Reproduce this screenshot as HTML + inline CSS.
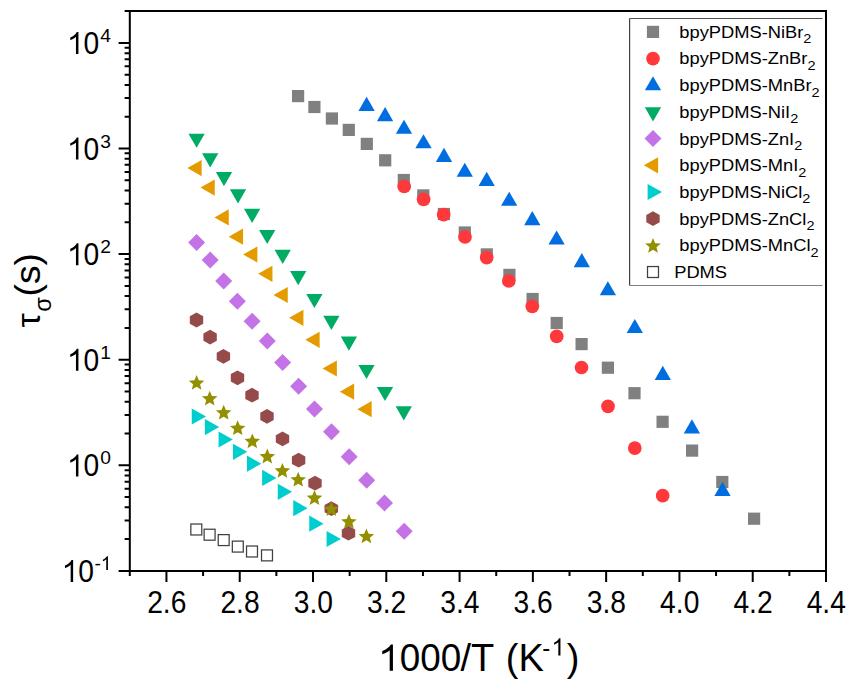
<!DOCTYPE html>
<html><head><meta charset="utf-8"><title>tau vs 1000/T</title>
<style>html,body{margin:0;padding:0;background:#fff;}body{width:856px;height:685px;overflow:hidden;}svg{display:block;font-family:"Liberation Sans",sans-serif;}</style>
</head><body>
<svg width="856" height="685" viewBox="0 0 856 685">
<rect width="856" height="685" fill="#fff"/>
<g>
<rect x="292" y="90" width="12.2" height="12.2" fill="#808080"/>
<rect x="308.3" y="100.9" width="12.2" height="12.2" fill="#808080"/>
<rect x="325.8" y="112.4" width="12.2" height="12.2" fill="#808080"/>
<rect x="342.7" y="123.8" width="12.2" height="12.2" fill="#808080"/>
<rect x="360.7" y="137.8" width="12.2" height="12.2" fill="#808080"/>
<rect x="379.1" y="154.2" width="12.2" height="12.2" fill="#808080"/>
<rect x="397.7" y="173.9" width="12.2" height="12.2" fill="#808080"/>
<rect x="417.2" y="189.3" width="12.2" height="12.2" fill="#808080"/>
<rect x="437.8" y="207.9" width="12.2" height="12.2" fill="#808080"/>
<rect x="458.7" y="226.4" width="12.2" height="12.2" fill="#808080"/>
<rect x="480.7" y="248.3" width="12.2" height="12.2" fill="#808080"/>
<rect x="503.3" y="268.8" width="12.2" height="12.2" fill="#808080"/>
<rect x="526.5" y="292.9" width="12.2" height="12.2" fill="#808080"/>
<rect x="550.6" y="316.9" width="12.2" height="12.2" fill="#808080"/>
<rect x="575.5" y="338" width="12.2" height="12.2" fill="#808080"/>
<rect x="601.8" y="361.6" width="12.2" height="12.2" fill="#808080"/>
<rect x="628.4" y="387.1" width="12.2" height="12.2" fill="#808080"/>
<rect x="656.5" y="415.7" width="12.2" height="12.2" fill="#808080"/>
<rect x="686" y="444.5" width="12.2" height="12.2" fill="#808080"/>
<rect x="716.2" y="475.9" width="12.2" height="12.2" fill="#808080"/>
<rect x="748" y="512.6" width="12.2" height="12.2" fill="#808080"/>
</g>
<g>
<circle cx="404.2" cy="186.5" r="6.85" fill="#FF383C"/>
<circle cx="423.6" cy="199.3" r="6.85" fill="#FF383C"/>
<circle cx="443.7" cy="214.7" r="6.85" fill="#FF383C"/>
<circle cx="465" cy="236.9" r="6.85" fill="#FF383C"/>
<circle cx="486.7" cy="257.6" r="6.85" fill="#FF383C"/>
<circle cx="508.8" cy="280.9" r="6.85" fill="#FF383C"/>
<circle cx="532.3" cy="306.3" r="6.85" fill="#FF383C"/>
<circle cx="556.7" cy="336.4" r="6.85" fill="#FF383C"/>
<circle cx="581.5" cy="367.5" r="6.85" fill="#FF383C"/>
<circle cx="608" cy="406.4" r="6.85" fill="#FF383C"/>
<circle cx="634.8" cy="448.1" r="6.85" fill="#FF383C"/>
<circle cx="662.7" cy="495.7" r="6.85" fill="#FF383C"/>
</g>
<g>
<polygon points="366.6,96.85 374.75,110.95 358.45,110.95" fill="#006EE0"/>
<polygon points="385.1,107.05 393.25,121.15 376.95,121.15" fill="#006EE0"/>
<polygon points="404,119.65 412.15,133.75 395.85,133.75" fill="#006EE0"/>
<polygon points="423.5,134.25 431.65,148.35 415.35,148.35" fill="#006EE0"/>
<polygon points="444,147.85 452.15,161.95 435.85,161.95" fill="#006EE0"/>
<polygon points="464.8,162.65 472.95,176.75 456.65,176.75" fill="#006EE0"/>
<polygon points="486.7,171.85 494.85,185.95 478.55,185.95" fill="#006EE0"/>
<polygon points="509.2,191.75 517.35,205.85 501.05,205.85" fill="#006EE0"/>
<polygon points="532.3,211.05 540.45,225.15 524.15,225.15" fill="#006EE0"/>
<polygon points="556.6,230.45 564.75,244.55 548.45,244.55" fill="#006EE0"/>
<polygon points="581.8,253.05 589.95,267.15 573.65,267.15" fill="#006EE0"/>
<polygon points="607.9,281.25 616.05,295.35 599.75,295.35" fill="#006EE0"/>
<polygon points="634.8,318.95 642.95,333.05 626.65,333.05" fill="#006EE0"/>
<polygon points="662.8,365.85 670.95,379.95 654.65,379.95" fill="#006EE0"/>
<polygon points="691.9,419.35 700.05,433.45 683.75,433.45" fill="#006EE0"/>
<polygon points="722.5,481.85 730.65,495.95 714.35,495.95" fill="#006EE0"/>
</g>
<g>
<polygon points="188.45,133.75 204.75,133.75 196.6,147.85" fill="#00AC64"/>
<polygon points="202.05,153.35 218.35,153.35 210.2,167.45" fill="#00AC64"/>
<polygon points="215.85,172.05 232.15,172.05 224,186.15" fill="#00AC64"/>
<polygon points="229.85,189.35 246.15,189.35 238,203.45" fill="#00AC64"/>
<polygon points="243.95,208.85 260.25,208.85 252.1,222.95" fill="#00AC64"/>
<polygon points="259.05,229.95 275.35,229.95 267.2,244.05" fill="#00AC64"/>
<polygon points="274.55,249.85 290.85,249.85 282.7,263.95" fill="#00AC64"/>
<polygon points="290.05,271.05 306.35,271.05 298.2,285.15" fill="#00AC64"/>
<polygon points="306.25,293.95 322.55,293.95 314.4,308.05" fill="#00AC64"/>
<polygon points="323.25,315.85 339.55,315.85 331.4,329.95" fill="#00AC64"/>
<polygon points="340.75,336.55 357.05,336.55 348.9,350.65" fill="#00AC64"/>
<polygon points="358.35,364.95 374.65,364.95 366.5,379.05" fill="#00AC64"/>
<polygon points="376.85,386.95 393.15,386.95 385,401.05" fill="#00AC64"/>
<polygon points="395.65,406.35 411.95,406.35 403.8,420.45" fill="#00AC64"/>
</g>
<g>
<polygon points="196.6,234.1 205.1,242.6 196.6,251.1 188.1,242.6" fill="#C373E6"/>
<polygon points="210.2,251.6 218.7,260.1 210.2,268.6 201.7,260.1" fill="#C373E6"/>
<polygon points="223.7,272.4 232.2,280.9 223.7,289.4 215.2,280.9" fill="#C373E6"/>
<polygon points="237.4,292.8 245.9,301.3 237.4,309.8 228.9,301.3" fill="#C373E6"/>
<polygon points="252.1,312.7 260.6,321.2 252.1,329.7 243.6,321.2" fill="#C373E6"/>
<polygon points="267.3,332.4 275.8,340.9 267.3,349.4 258.8,340.9" fill="#C373E6"/>
<polygon points="282.6,353.9 291.1,362.4 282.6,370.9 274.1,362.4" fill="#C373E6"/>
<polygon points="298.6,377.8 307.1,386.3 298.6,394.8 290.1,386.3" fill="#C373E6"/>
<polygon points="314.5,400.5 323,409 314.5,417.5 306,409" fill="#C373E6"/>
<polygon points="331.5,423.2 340,431.7 331.5,440.2 323,431.7" fill="#C373E6"/>
<polygon points="349.2,448.2 357.7,456.7 349.2,465.2 340.7,456.7" fill="#C373E6"/>
<polygon points="366.7,471.7 375.2,480.2 366.7,488.7 358.2,480.2" fill="#C373E6"/>
<polygon points="384.5,494.4 393,502.9 384.5,511.4 376,502.9" fill="#C373E6"/>
<polygon points="404.2,522.7 412.7,531.2 404.2,539.7 395.7,531.2" fill="#C373E6"/>
</g>
<g>
<polygon points="187.35,168.1 201.65,160 201.65,176.2" fill="#E39B00"/>
<polygon points="200.45,187.6 214.75,179.5 214.75,195.7" fill="#E39B00"/>
<polygon points="214.45,217.4 228.75,209.3 228.75,225.5" fill="#E39B00"/>
<polygon points="228.75,236.7 243.05,228.6 243.05,244.8" fill="#E39B00"/>
<polygon points="243.05,254.5 257.35,246.4 257.35,262.6" fill="#E39B00"/>
<polygon points="258.15,273.8 272.45,265.7 272.45,281.9" fill="#E39B00"/>
<polygon points="273.45,295 287.75,286.9 287.75,303.1" fill="#E39B00"/>
<polygon points="289.15,317.8 303.45,309.7 303.45,325.9" fill="#E39B00"/>
<polygon points="305.35,339.8 319.65,331.7 319.65,347.9" fill="#E39B00"/>
<polygon points="322.55,368.5 336.85,360.4 336.85,376.6" fill="#E39B00"/>
<polygon points="339.85,391.7 354.15,383.6 354.15,399.8" fill="#E39B00"/>
<polygon points="357.35,409.2 371.65,401.1 371.65,417.3" fill="#E39B00"/>
</g>
<g>
<polygon points="206.05,416.5 191.75,408.4 191.75,424.6" fill="#00CDCD"/>
<polygon points="219.15,427.1 204.85,419 204.85,435.2" fill="#00CDCD"/>
<polygon points="232.85,439.5 218.55,431.4 218.55,447.6" fill="#00CDCD"/>
<polygon points="247.25,451.8 232.95,443.7 232.95,459.9" fill="#00CDCD"/>
<polygon points="261.25,463.7 246.95,455.6 246.95,471.8" fill="#00CDCD"/>
<polygon points="276.45,477.9 262.15,469.8 262.15,486" fill="#00CDCD"/>
<polygon points="292.05,491.8 277.75,483.7 277.75,499.9" fill="#00CDCD"/>
<polygon points="307.55,508.2 293.25,500.1 293.25,516.3" fill="#00CDCD"/>
<polygon points="323.55,523.7 309.25,515.6 309.25,531.8" fill="#00CDCD"/>
<polygon points="340.85,539 326.55,530.9 326.55,547.1" fill="#00CDCD"/>
</g>
<g>
<polygon points="196.5,312.6 203.2,316.3 203.2,323.7 196.5,327.4 189.8,323.7 189.8,316.3" fill="#964B4B"/>
<polygon points="210.1,329.7 216.8,333.4 216.8,340.8 210.1,344.5 203.4,340.8 203.4,333.4" fill="#964B4B"/>
<polygon points="223.4,349 230.1,352.7 230.1,360.1 223.4,363.8 216.7,360.1 216.7,352.7" fill="#964B4B"/>
<polygon points="237.5,370.4 244.2,374.1 244.2,381.5 237.5,385.2 230.8,381.5 230.8,374.1" fill="#964B4B"/>
<polygon points="252,387.8 258.7,391.5 258.7,398.9 252,402.6 245.3,398.9 245.3,391.5" fill="#964B4B"/>
<polygon points="267,409 273.7,412.7 273.7,420.1 267,423.8 260.3,420.1 260.3,412.7" fill="#964B4B"/>
<polygon points="282.5,431.5 289.2,435.2 289.2,442.6 282.5,446.3 275.8,442.6 275.8,435.2" fill="#964B4B"/>
<polygon points="298.6,452.8 305.3,456.5 305.3,463.9 298.6,467.6 291.9,463.9 291.9,456.5" fill="#964B4B"/>
<polygon points="315,475.8 321.7,479.5 321.7,486.9 315,490.6 308.3,486.9 308.3,479.5" fill="#964B4B"/>
<polygon points="331.3,501.2 338,504.9 338,512.3 331.3,516 324.6,512.3 324.6,504.9" fill="#964B4B"/>
<polygon points="348.5,525.8 355.2,529.5 355.2,536.9 348.5,540.6 341.8,536.9 341.8,529.5" fill="#964B4B"/>
</g>
<g>
<polygon points="196.6,374.98 198.77,380.2 204.4,380.65 200.11,384.32 201.42,389.82 196.6,386.87 191.78,389.82 193.09,384.32 188.8,380.65 194.43,380.2" fill="#939000"/>
<polygon points="209.7,390.68 211.87,395.9 217.5,396.35 213.21,400.02 214.52,405.52 209.7,402.57 204.88,405.52 206.19,400.02 201.9,396.35 207.53,395.9" fill="#939000"/>
<polygon points="223.7,404.78 225.87,410 231.5,410.45 227.21,414.12 228.52,419.62 223.7,416.67 218.88,419.62 220.19,414.12 215.9,410.45 221.53,410" fill="#939000"/>
<polygon points="237.7,420.28 239.87,425.5 245.5,425.95 241.21,429.62 242.52,435.12 237.7,432.17 232.88,435.12 234.19,429.62 229.9,425.95 235.53,425.5" fill="#939000"/>
<polygon points="252.3,433.38 254.47,438.6 260.1,439.05 255.81,442.72 257.12,448.22 252.3,445.27 247.48,448.22 248.79,442.72 244.5,439.05 250.13,438.6" fill="#939000"/>
<polygon points="267.3,448.58 269.47,453.8 275.1,454.25 270.81,457.92 272.12,463.42 267.3,460.47 262.48,463.42 263.79,457.92 259.5,454.25 265.13,453.8" fill="#939000"/>
<polygon points="282.4,462.88 284.57,468.1 290.2,468.55 285.91,472.22 287.22,477.72 282.4,474.77 277.58,477.72 278.89,472.22 274.6,468.55 280.23,468.1" fill="#939000"/>
<polygon points="298.2,471.78 300.37,477 306,477.45 301.71,481.12 303.02,486.62 298.2,483.67 293.38,486.62 294.69,481.12 290.4,477.45 296.03,477" fill="#939000"/>
<polygon points="314.5,490.08 316.67,495.3 322.3,495.75 318.01,499.42 319.32,504.92 314.5,501.97 309.68,504.92 310.99,499.42 306.7,495.75 312.33,495.3" fill="#939000"/>
<polygon points="331.3,501.18 333.47,506.4 339.1,506.85 334.81,510.52 336.12,516.02 331.3,513.07 326.48,516.02 327.79,510.52 323.5,506.85 329.13,506.4" fill="#939000"/>
<polygon points="348.9,513.78 351.07,519 356.7,519.45 352.41,523.12 353.72,528.62 348.9,525.67 344.08,528.62 345.39,523.12 341.1,519.45 346.73,519" fill="#939000"/>
<polygon points="366.4,528.48 368.57,533.7 374.2,534.15 369.91,537.82 371.22,543.32 366.4,540.37 361.58,543.32 362.89,537.82 358.6,534.15 364.23,533.7" fill="#939000"/>
</g>
<g>
<rect x="190.83" y="524.02" width="10.95" height="10.95" fill="none" stroke="#404040" stroke-width="1.25"/>
<rect x="204.12" y="529.23" width="10.95" height="10.95" fill="none" stroke="#404040" stroke-width="1.25"/>
<rect x="218.22" y="534.62" width="10.95" height="10.95" fill="none" stroke="#404040" stroke-width="1.25"/>
<rect x="232.33" y="541.12" width="10.95" height="10.95" fill="none" stroke="#404040" stroke-width="1.25"/>
<rect x="246.53" y="546.02" width="10.95" height="10.95" fill="none" stroke="#404040" stroke-width="1.25"/>
<rect x="261.52" y="549.92" width="10.95" height="10.95" fill="none" stroke="#404040" stroke-width="1.25"/>
</g>
<g stroke="#000" stroke-width="2" fill="none" stroke-linecap="butt">
<path d="M129.8 11.11H826V570.9H129.8Z"/>
<path d="M118.6 570.9H129.8M124.6 539.11H129.8M124.6 520.52H129.8M124.6 507.32H129.8M124.6 497.09H129.8M124.6 488.73H129.8M124.6 481.66H129.8M124.6 475.53H129.8M124.6 470.13H129.8M118.6 465.3H129.8M124.6 433.51H129.8M124.6 414.92H129.8M124.6 401.72H129.8M124.6 391.49H129.8M124.6 383.13H129.8M124.6 376.06H129.8M124.6 369.93H129.8M124.6 364.53H129.8M118.6 359.7H129.8M124.6 327.91H129.8M124.6 309.32H129.8M124.6 296.12H129.8M124.6 285.89H129.8M124.6 277.53H129.8M124.6 270.46H129.8M124.6 264.33H129.8M124.6 258.93H129.8M118.6 254.1H129.8M124.6 222.31H129.8M124.6 203.72H129.8M124.6 190.52H129.8M124.6 180.29H129.8M124.6 171.93H129.8M124.6 164.86H129.8M124.6 158.73H129.8M124.6 153.33H129.8M118.6 148.5H129.8M124.6 116.71H129.8M124.6 98.12H129.8M124.6 84.92H129.8M124.6 74.69H129.8M124.6 66.33H129.8M124.6 59.26H129.8M124.6 53.13H129.8M124.6 47.73H129.8M118.6 42.9H129.8M124.6 11.11H129.8M124.6 11.11H129.8M129.8 570.9V576.1M166.44 570.9V582.1M203.08 570.9V576.1M239.73 570.9V582.1M276.37 570.9V576.1M313.01 570.9V582.1M349.65 570.9V576.1M386.29 570.9V582.1M422.94 570.9V576.1M459.58 570.9V582.1M496.22 570.9V576.1M532.86 570.9V582.1M569.51 570.9V576.1M606.15 570.9V582.1M642.79 570.9V576.1M679.43 570.9V582.1M716.07 570.9V576.1M752.72 570.9V582.1M789.36 570.9V576.1M826 570.9V582.1"/>
</g>
<path d="M763 0H583V1147Q518 1085 400 1020Q282 955 170 922V1100Q340 1170 470 1270Q600 1370 646 1472H763Z" transform="translate(62.62 582) scale(0.01378 -0.01494)"/>
<text transform="translate(78.31 582) scale(0.89 1)" font-size="31.7">0</text>
<text x="94.4" y="570" font-size="19.2">-</text>
<path d="M763 0H583V1147Q518 1085 412 1023Q306 961 222 930V1104Q373 1175 486 1276Q599 1377 646 1472H763Z" transform="translate(100.79 570) scale(0.00937 -0.00937)"/>
<path d="M763 0H583V1147Q518 1085 400 1020Q282 955 170 922V1100Q340 1170 470 1270Q600 1370 646 1472H763Z" transform="translate(67.92 476.4) scale(0.01378 -0.01494)"/>
<text transform="translate(83.61 476.4) scale(0.89 1)" font-size="31.7">0</text>
<text x="100.2" y="464.4" font-size="19.2">0</text>
<path d="M763 0H583V1147Q518 1085 400 1020Q282 955 170 922V1100Q340 1170 470 1270Q600 1370 646 1472H763Z" transform="translate(67.92 370.8) scale(0.01378 -0.01494)"/>
<text transform="translate(83.61 370.8) scale(0.89 1)" font-size="31.7">0</text>
<text x="100.2" y="358.8" font-size="19.2">1</text>
<path d="M763 0H583V1147Q518 1085 400 1020Q282 955 170 922V1100Q340 1170 470 1270Q600 1370 646 1472H763Z" transform="translate(67.92 265.2) scale(0.01378 -0.01494)"/>
<text transform="translate(83.61 265.2) scale(0.89 1)" font-size="31.7">0</text>
<text x="100.2" y="253.2" font-size="19.2">2</text>
<path d="M763 0H583V1147Q518 1085 400 1020Q282 955 170 922V1100Q340 1170 470 1270Q600 1370 646 1472H763Z" transform="translate(67.92 159.6) scale(0.01378 -0.01494)"/>
<text transform="translate(83.61 159.6) scale(0.89 1)" font-size="31.7">0</text>
<text x="100.2" y="147.6" font-size="19.2">3</text>
<path d="M763 0H583V1147Q518 1085 400 1020Q282 955 170 922V1100Q340 1170 470 1270Q600 1370 646 1472H763Z" transform="translate(67.92 54) scale(0.01378 -0.01494)"/>
<text transform="translate(83.61 54) scale(0.89 1)" font-size="31.7">0</text>
<text x="100.2" y="42" font-size="19.2">4</text>
<text transform="translate(166.74 612.8) scale(0.89 1)" font-size="31.7" text-anchor="middle">2.6</text>
<text transform="translate(240.03 612.8) scale(0.89 1)" font-size="31.7" text-anchor="middle">2.8</text>
<text transform="translate(313.31 612.8) scale(0.89 1)" font-size="31.7" text-anchor="middle">3.0</text>
<text transform="translate(386.59 612.8) scale(0.89 1)" font-size="31.7" text-anchor="middle">3.2</text>
<text transform="translate(459.88 612.8) scale(0.89 1)" font-size="31.7" text-anchor="middle">3.4</text>
<text transform="translate(533.16 612.8) scale(0.89 1)" font-size="31.7" text-anchor="middle">3.6</text>
<text transform="translate(606.45 612.8) scale(0.89 1)" font-size="31.7" text-anchor="middle">3.8</text>
<text transform="translate(679.73 612.8) scale(0.89 1)" font-size="31.7" text-anchor="middle">4.0</text>
<text transform="translate(753.02 612.8) scale(0.89 1)" font-size="31.7" text-anchor="middle">4.2</text>
<text transform="translate(826.3 612.8) scale(0.89 1)" font-size="31.7" text-anchor="middle">4.4</text>
<path d="M763 0H583V1147Q518 1085 400 1020Q282 955 170 922V1100Q340 1170 470 1270Q600 1370 646 1472H763Z" transform="translate(379.2 670.8) scale(0.01800 -0.01791)"/>
<text transform="translate(399.7 670.8) scale(0.97 1)" font-size="38">000</text>
<text x="460.4" y="670.8" font-size="38">/T</text>
<text x="505.8" y="670.8" font-size="38">(K</text>
<text x="542.2" y="655.6" font-size="24">-</text>
<path d="M763 0H583V1147Q518 1085 412 1023Q306 961 222 930V1104Q373 1175 486 1276Q599 1377 646 1472H763Z" transform="translate(551.5 655.6) scale(0.01172 -0.01172)"/>
<text x="566.8" y="670.8" font-size="38">)</text>
<text transform="translate(39.6 320.5) rotate(-90) scale(1 0.92)" font-size="36" text-anchor="middle">&#964;</text>
<text transform="translate(51.0 304.6) rotate(-90)" font-size="23.5" text-anchor="middle">&#963;</text>
<text transform="translate(39.5 274.8) rotate(-90) scale(1.035 1)" font-size="36" text-anchor="middle">(s)</text>
<path d="M629.6 18.5H822.5" stroke="#505050" stroke-width="1.1" fill="none"/>
<path d="M629.6 18.5V285.5" stroke="#404040" stroke-width="1.2" fill="none"/>
<path d="M629.6 285.5H822.5" stroke="#808080" stroke-width="1.1" fill="none"/>
<rect x="646.9" y="25.8" width="12.2" height="12.2" fill="#808080"/>
<text transform="translate(679.3 37.8) scale(1.065 1)" font-size="17.2">bpyPDMS-NiBr<tspan font-size="13.6" dy="5.4">2</tspan></text>
<circle cx="653" cy="58.58" r="6.85" fill="#FF383C"/>
<text transform="translate(679.3 64.48) scale(1.065 1)" font-size="17.2">bpyPDMS-ZnBr<tspan font-size="13.6" dy="5.4">2</tspan></text>
<polygon points="653,76.21 661.15,90.31 644.85,90.31" fill="#006EE0"/>
<text transform="translate(679.3 91.16) scale(1.065 1)" font-size="17.2">bpyPDMS-MnBr<tspan font-size="13.6" dy="5.4">2</tspan></text>
<polygon points="644.85,107.29 661.15,107.29 653,121.39" fill="#00AC64"/>
<text transform="translate(679.3 117.84) scale(1.065 1)" font-size="17.2">bpyPDMS-NiI<tspan font-size="13.6" dy="5.4">2</tspan></text>
<polygon points="653,130.12 661.5,138.62 653,147.12 644.5,138.62" fill="#C373E6"/>
<text transform="translate(679.3 144.52) scale(1.065 1)" font-size="17.2">bpyPDMS-ZnI<tspan font-size="13.6" dy="5.4">2</tspan></text>
<polygon points="643.85,165.3 658.15,157.2 658.15,173.4" fill="#E39B00"/>
<text transform="translate(679.3 171.2) scale(1.065 1)" font-size="17.2">bpyPDMS-MnI<tspan font-size="13.6" dy="5.4">2</tspan></text>
<polygon points="661.95,191.98 647.65,183.88 647.65,200.08" fill="#00CDCD"/>
<text transform="translate(679.3 197.88) scale(1.065 1)" font-size="17.2">bpyPDMS-NiCl<tspan font-size="13.6" dy="5.4">2</tspan></text>
<polygon points="653,211.26 659.7,214.96 659.7,222.36 653,226.06 646.3,222.36 646.3,214.96" fill="#964B4B"/>
<text transform="translate(679.3 224.56) scale(1.065 1)" font-size="17.2">bpyPDMS-ZnCl<tspan font-size="13.6" dy="5.4">2</tspan></text>
<polygon points="653,237.92 655.17,243.14 660.8,243.59 656.51,247.26 657.82,252.76 653,249.81 648.18,252.76 649.49,247.26 645.2,243.59 650.83,243.14" fill="#939000"/>
<text transform="translate(679.3 251.24) scale(1.065 1)" font-size="17.2">bpyPDMS-MnCl<tspan font-size="13.6" dy="5.4">2</tspan></text>
<rect x="647.52" y="266.54" width="10.95" height="10.95" fill="none" stroke="#404040" stroke-width="1.25"/>
<text transform="translate(674.2 277.92) scale(1.065 1)" font-size="17.2">PDMS</text>
</svg>
</body></html>
